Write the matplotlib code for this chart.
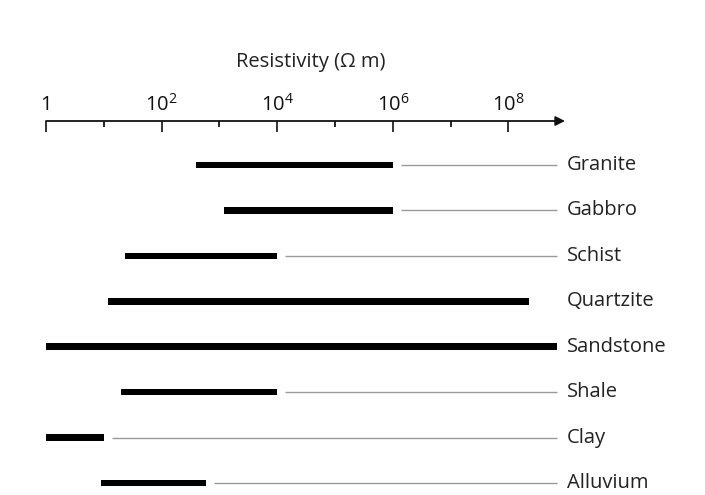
import matplotlib
matplotlib.use("Agg")
import matplotlib.pyplot as plt
from matplotlib.ticker import FixedLocator, FixedFormatter

plt.rcParams['font.family'] = ['Open Sans', 'DejaVu Sans']
plt.rcParams['mathtext.fontset'] = 'custom'
plt.rcParams['mathtext.rm'] = 'Open Sans'
plt.rcParams['mathtext.it'] = 'Open Sans'

# Data: resistivity ranges (ohm m)
rocks = ["Granite", "Gabbro", "Schist", "Quartzite", "Sandstone", "Shale", "Clay", "Alluvium"]
low = [400, 1200, 23, 12, 1, 20, 1, 9]
high = [1e6, 1e6, 1e4, 2.3e8, 7e8, 1e4, 10, 590]
has_leader = [True, True, True, False, False, True, True, True]

major_ticks = [1, 1e2, 1e4, 1e6, 1e8]
major_labels = ["1", r"$10^2$", r"$10^4$", r"$10^6$", r"$10^8$"]
minor_ticks = [1e1, 1e3, 1e5, 1e7]

W, H = 705, 495
fig = plt.figure(figsize=(W / 100, H / 100), dpi=100)
x0, x1 = 46, 565
ytop, ybot = 121, 495
ax = fig.add_axes([x0 / W, 0, (x1 - x0) / W, (H - ytop) / H])
ax.set_xscale('log')
dec = 57.8
ax.set_xlim(1, 10 ** ((x1 - x0) / dec))
row0, rowstep = 165, 45.4
ax.set_ylim(7 + (ybot - 483) / rowstep, -(row0 - ytop) / rowstep)

for s in ['left', 'right', 'bottom', 'top']:
    ax.spines[s].set_visible(False)
ax.yaxis.set_visible(False)

ax.xaxis.tick_top()
ax.xaxis.set_major_locator(FixedLocator(major_ticks))
ax.xaxis.set_major_formatter(FixedFormatter(major_labels))
ax.xaxis.set_minor_locator(FixedLocator(minor_ticks))
ax.xaxis.set_minor_formatter(FixedFormatter([""] * len(minor_ticks)))
ax.tick_params(axis='x', which='major', direction='in', length=8, width=1.2,
               pad=4, labelsize=14.5, colors='#111111')
ax.tick_params(axis='x', which='minor', direction='in', length=4.5, width=1.2)

# axis line with arrow
ax.annotate("", xy=(1.0, 1.0), xytext=(0.0, 1.0), xycoords='axes fraction',
            textcoords='axes fraction',
            arrowprops=dict(arrowstyle='-|>', lw=1.3, color='#111111',
                            mutation_scale=14, shrinkA=0, shrinkB=0),
            annotation_clip=False)

fig.text(311 / W, 1 - 62 / H, "Resistivity (\u03a9 m)", fontsize=14.5,
         color='#222222', ha='center', va='center')

line_end = 10 ** ((557 - x0) / dec)
label_x = 10 ** ((567 - x0) / dec)
gap = 10 ** (8 / dec)
bar_h = 6.5 / rowstep

for i, (name, lo, hi, lead) in enumerate(zip(rocks, low, high, has_leader)):
    ax.barh(i, hi - lo, left=lo, height=bar_h, color='black', linewidth=0)
    if lead:
        ax.hlines(i, hi * gap, line_end, color='#9a9a9a', linewidth=1.0)
    ax.text(label_x, i, name, fontsize=14.5, va='center', ha='left',
            color='#222222', clip_on=False)

fig.savefig("out.png", dpi=100)
